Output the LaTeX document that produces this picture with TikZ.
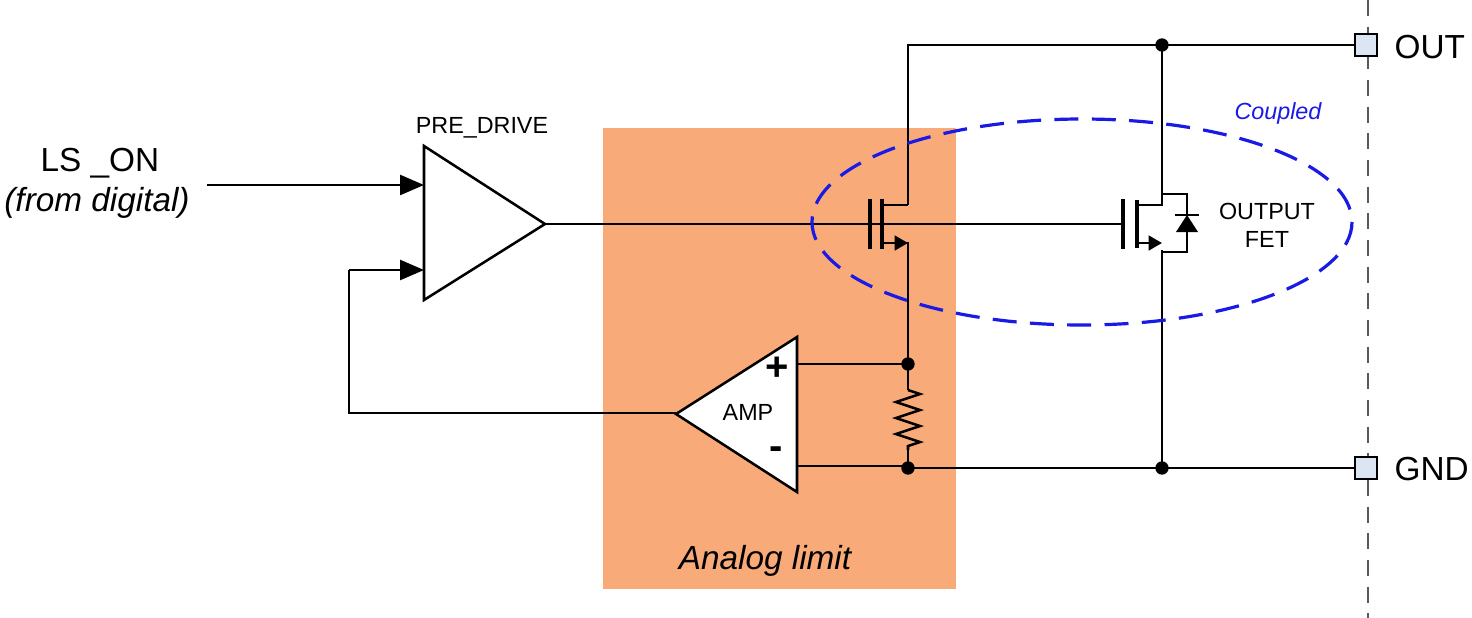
\documentclass[tikz,border=0pt]{standalone}
\usepackage{fontspec}
\setmainfont{Liberation Sans}
\usetikzlibrary{arrows.meta,decorations.pathmorphing}
\definecolor{orng}{HTML}{F8AA78}
\definecolor{cblue}{HTML}{1A1AE6}
\definecolor{pin}{HTML}{DCE6F2}
\tikzset{
 w/.style={line width=1.9pt,line join=miter},
 dot/.style={circle,fill=black,inner sep=0pt,minimum size=10pt},
 pinsq/.style={draw,fill=pin,line width=1.4pt,minimum size=17pt,inner sep=0pt},
 big/.style={font=\fontsize{25}{30}\selectfont},
 small/.style={font=\fontsize{17.5}{21}\selectfont},
 arr/.style={w,-{Triangle[length=18pt,width=15pt]}},
}
\begin{document}
\begin{tikzpicture}[x=0.75pt,y=-0.75pt]
\useasboundingbox (0,0) rectangle (1472,618);
\fill[orng] (603,128) rectangle (956,589);
\node[font=\fontsize{25}{30}\selectfont\itshape] (al) at (765,561) {Analog limit};
\coordinate (gate) at (545,224);
% wires
\draw[w] (gate) -- (1123,224);
\draw[w] (908,205) -- (908,45) -- (1366,45);
\draw[w] (1162,45) -- (1162,205) -- (1137,205);
\draw[w] (908,250) -- (908,364) -- (797,364);
\draw[w] (908,364) -- (908,390);
\draw[w] (908,450) -- (908,468);
\draw[w,decorate,decoration={zigzag,segment length=12pt,amplitude=9pt}] (908,390) -- (908,450);
\draw[w] (797,466) -- (908,466);
\draw[w] (908,468) -- (1366,468);
\draw[w] (1162,250) -- (1162,468);
% small FET
\draw[line width=2.8pt] (870,199) -- (870,249);
\draw[line width=3.4pt] (882,199) -- (882,249);
\draw[w] (882,205) -- (908,205);
\draw[w,-{Triangle[length=10pt,width=11pt]}] (882,243) -- (908,243);
\draw[w] (908,242) -- (908,252);
% big FET
\draw[line width=2.8pt] (1123,199) -- (1123,249);
\draw[line width=3.4pt] (1137,200) -- (1137,248);
\draw[w] (1137,205) -- (1162,205);
\draw[w,-{Triangle[length=10pt,width=11pt]}] (1137,243) -- (1162,243);
\draw[w] (1162,194) -- (1187,194) -- (1187,252) -- (1162,252);
\fill (1176,232) -- (1198,232) -- (1187,215) -- cycle;
\draw[w] (1175,215) -- (1199,215);
\node[small,align=center] (ofet) at (1267,225) {OUTPUT\\FET};
% dots
\node[dot] (d1) at (1162,45) {};
\node[dot] (d2) at (908,364) {};
\node[dot] (d3) at (908,468) {};
\node[dot] (d4) at (1162,468) {};
% pre-drive
\draw[w,fill=white] (424,146) -- (424,300) -- (gate) -- cycle;
\node[small] (pdl) at (482,128) {PRE\_DRIVE};
\coordinate (in1) at (424,185);
\coordinate (in2) at (424,270);
\draw[arr] (207,185) -- (in1);
\node[big] (ls) at (100,163) {LS \_ON};
\node[font=\fontsize{25}{30}\selectfont\itshape] (fd) at (97,203) {(from digital)};
% amp
\draw[w,fill=white] (797,337) -- (797,492) -- (676,414) -- cycle;
\node[small] (ampl) at (748,412) {AMP};
\node[font=\fontsize{30}{30}\selectfont\bfseries] (pl) at (777,369) {+};
\node[font=\fontsize{30}{30}\selectfont\bfseries] (mi) at (776,453) {-};
\draw[w] (676,413) -- (349,413) -- (349,270);
\draw[arr] (349,270) -- (in2);
% ellipse
\draw[cblue,line width=2.4pt,dash pattern=on 18pt off 10pt] (1082,222) ellipse [x radius=270,y radius=103];
\node[cblue,font=\fontsize{17.5}{21}\selectfont\itshape] (cp) at (1278,113) {Coupled};
% right border
\draw[gray!70!black,line width=1.5pt,dash pattern=on 12pt off 8pt] (1368,0) -- (1368,618);
\node[pinsq] (out) at (1366,45) {};
\node[pinsq] (gnd) at (1366,468) {};
\node[big,anchor=west] (outl) at (1390,47) {OUT};
\node[big,anchor=west] (gndl) at (1390,469) {GND};
\end{tikzpicture}
\end{document}
